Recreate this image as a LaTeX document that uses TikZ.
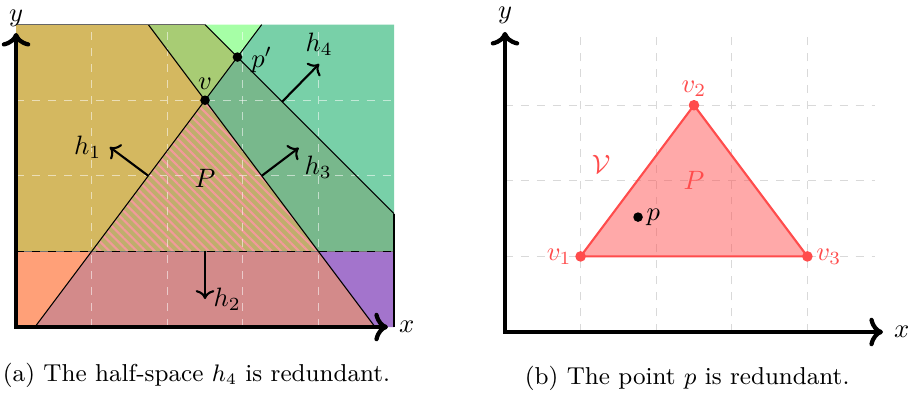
\documentclass[tikz,border=0pt]{standalone}
\usepackage{amsmath,amssymb}
\usepackage{xcolor}
\usepackage{tikz}
\usetikzlibrary{arrows.meta,positioning,patterns.meta}

\definecolor{hgold}{HTML}{D4B860}
\definecolor{holive}{HTML}{A8CC74}
\definecolor{hlight}{HTML}{A6FFA6}
\definecolor{hteal}{HTML}{78D0A8}
\definecolor{hgreen}{HTML}{78B88C}
\definecolor{horange}{HTML}{FFA078}
\definecolor{hpink}{HTML}{D38A8A}
\definecolor{hpurple}{HTML}{A374CC}
\definecolor{pbase}{HTML}{BFAE6C}
\definecolor{phatch}{HTML}{F29A9A}

\begin{document}
\begin{tikzpicture}[
  axis/.style={<->, ultra thick},
  normal/.style={->, thick},
  gridwhite/.style={dashed, white, opacity=0.55},
  gridgray/.style={dashed, gray!30},
  dot/.style={circle, fill, inner sep=0pt, minimum size=3.6pt},
  reddot/.style={dot, red!70, minimum size=4pt},
  lbl/.style={inner sep=1pt},
  redlbl/.style={lbl, text=red!70},
  captext/.style={font=\fontsize{9.2}{11}\selectfont}
]
\useasboundingbox (0,0) rectangle (12.011,5.212);

\begin{scope}[shift={(0.212,0.886)}]
\coordinate (pp) at (2.929,3.571);
\fill[hgold] (0,1) -- (1,1) -- (2.5,3) -- (1.75,4) -- (0,4) -- cycle;
\fill[holive] (1.75,4) -- (2.5,3) -- (pp) -- (2.5,4) -- cycle;
\fill[hlight] (2.5,4) -- (pp) -- (3.25,4) -- cycle;
\fill[hteal] (pp) -- (3.25,4) -- (5,4) -- (5,1.5) -- cycle;
\fill[hgreen] (2.5,3) -- (pp) -- (5,1.5) -- (5,1) -- (4,1) -- cycle;
\fill[horange] (0,0) -- (0.25,0) -- (1,1) -- (0,1) -- cycle;
\fill[hpink] (0.25,0) -- (4.75,0) -- (4,1) -- (1,1) -- cycle;
\fill[hpurple] (4.75,0) -- (5,0) -- (5,1) -- (4,1) -- cycle;
\fill[pbase] (1,1) -- (4,1) -- (2.5,3) -- cycle;
\fill[pattern={Lines[angle=-45, distance=2.4pt, line width=0.8pt]}, pattern color=phatch]
  (1,1) -- (4,1) -- (2.5,3) -- cycle;
\foreach \x in {1,...,4} \draw[gridwhite] (\x,0) -- (\x,4);
\foreach \y in {2,3} \draw[gridwhite] (0,\y) -- (5,\y);
\draw[black!55] (0,1) -- (5,1);
\draw[dashed] (0,1) -- (5,1);
\draw (0.25,0) -- (3.25,4);
\draw (4.75,0) -- (1.75,4);
\draw (2.5,4) -- (5,1.5);
\draw[black!60] (0,4) -- (2.5,4);
\draw (5,0) -- (5,1.5);

\node[dot] (v) at (2.5,3) {};
\node[dot] (pv) at (pp) {};
\node[lbl, above=1pt of v] (vl) {$v$};
\node[lbl, right=2pt of pv, yshift=-1pt] (pvl) {$p'$};
\node (P) at (2.5,1.97) {$P$};

\coordinate (h1s) at (1.75,2);
\coordinate (h1e) at (1.24,2.38);
\coordinate (h2s) at (2.5,1);
\coordinate (h2e) at (2.5,0.37);
\coordinate (h3s) at (3.25,2);
\coordinate (h3e) at (3.74,2.37);
\coordinate (h4s) at (3.52,2.98);
\coordinate (h4e) at (4.01,3.48);
\draw[normal] (h1s) -- (h1e);
\draw[normal] (h2s) -- (h2e);
\draw[normal] (h3s) -- (h3e);
\draw[normal] (h4s) -- (h4e);
\node[lbl, left=2pt of h1e] (h1l) {$h_1$};
\node[lbl, right=2pt of h2e] (h2l) {$h_2$};
\node[lbl, below right=2pt and 1pt of h3e] (h3l) {$h_3$};
\node[lbl, above=2pt of h4e] (h4l) {$h_4$};

\coordinate (ya) at (0,3.89);
\coordinate (o) at (0,0);
\coordinate (xa) at (4.92,0);
\draw[axis] (ya) -- (o) -- (xa);
\node[lbl, right=3pt of xa] (xl) {$x$};
\node[lbl, above=1pt of ya] (yl) {$y$};
\end{scope}

\begin{scope}[shift={(6.680,0.820)}]
\foreach \x in {1,...,4} \draw[gridgray] (\x,0) -- (\x,3.9);
\foreach \y in {1,2,3} \draw[gridgray] (0,\y) -- (4.9,\y);
\coordinate (v1) at (1,1);
\coordinate (v2) at (2.5,3);
\coordinate (v3) at (4,1);
\fill[red!70, fill opacity=0.48] (v1) -- (v2) -- (v3) -- cycle;
\draw[red!70, thick] (v1) -- (v2) -- (v3) -- cycle;
\node[reddot] (d1) at (v1) {};
\node[reddot] (d2) at (v2) {};
\node[reddot] (d3) at (v3) {};
\node[redlbl, left=0pt of d1] (v1l) {$v_1$};
\node[redlbl, above=0pt of d2] (v2l) {$v_2$};
\node[redlbl, right=0pt of d3] (v3l) {$v_3$};
\node[redlbl] (PV) at (1.27,2.22) {$\mathcal{V}$};
\node[redlbl] (PP) at (2.5,2.0) {$P$};
\node[dot] (p) at (1.76,1.52) {};
\node[lbl, right=0pt of p] (pl) {$p$};

\coordinate (yb) at (0,3.97);
\coordinate (ob) at (0,0);
\coordinate (xb) at (5.0,0);
\draw[axis] (yb) -- (ob) -- (xb);
\node[lbl, right=3pt of xb] (xbl) {$x$};
\node[lbl, above=2pt of yb] (ybl) {$y$};
\end{scope}

\node[captext] (capa) at (2.60,0.24) {(a) The half-space $h_4$ is redundant.};
\node[captext] (capb) at (9.09,0.21) {(b) The point $p$ is redundant.};
\end{tikzpicture}
\end{document}
